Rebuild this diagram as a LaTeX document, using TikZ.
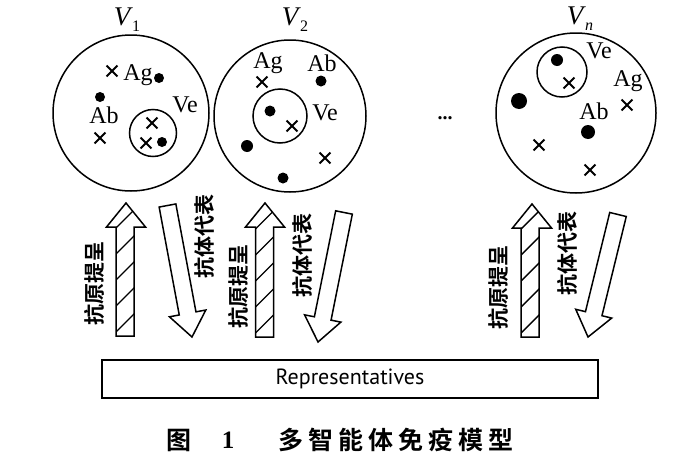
\documentclass[tikz,border=0pt]{standalone}
\usepackage{fontspec}
\setmainfont{Liberation Serif}
\newfontfamily\cjk{Noto Sans CJK SC}
\newfontfamily\cjkb{Noto Sans CJK SC Bold}
\newfontfamily\repfont{PT Sans}
\usetikzlibrary{calc,shapes.misc}
\newcommand{\fs}[1]{\fontsize{#1}{#1}\selectfont}
\newcommand{\hatcharrow}[4]{% #1 shaft x, #2 bottom y, #3 tip x, #4 tip y
  \begin{scope}
    \clip ({#1-9},#2) -- ({#1-9},{#4+24}) -- ({#3-19.5},{#4+24}) -- (#3,#4) -- ({#3+19.5},{#4+24}) -- ({#1+9},{#4+24}) -- ({#1+9},#2) -- cycle;
    \foreach \k in {0,...,6} \draw[hatchline] ({#1-10},{#2-3-\k*26}) -- ({#1+10},{#2-3-\k*26-20});
  \end{scope}
  \draw[bigarrow] ({#1-9},#2) -- ({#1-9},{#4+24}) -- ({#3-19.5},{#4+24}) -- (#3,#4) -- ({#3+19.5},{#4+24}) -- ({#1+9},{#4+24}) -- ({#1+9},#2) -- cycle;
}
\newcommand{\tiltarrow}[2]{% #1 start, #2 tip
  \coordinate (ab) at ($(#2)!24pt!(#1)$);
  \draw[bigarrow] ($(#1)!8.5pt!90:(#2)$) -- ($(ab)!8.5pt!90:(#2)$) -- ($(ab)!18.5pt!90:(#2)$) -- (#2)
     -- ($(ab)!18.5pt!-90:(#2)$) -- ($(ab)!8.5pt!-90:(#2)$) -- ($(#1)!8.5pt!-90:(#2)$) -- cycle;
}
\begin{document}
\begin{tikzpicture}[x=1pt,y=-1pt,
  cell/.style={draw,circle,line width=1.5pt,inner sep=0pt},
  xm/.style={cross out,draw,line width=1.8pt,minimum size=9pt,inner sep=0pt},
  dotm/.style={circle,fill,inner sep=0pt,minimum size=#1},
  dotm/.default=10pt,
  lab/.style={font=\fs{24}},
  vlab/.style={font=\fs{27}},
  bigarrow/.style={draw,line width=1.5pt,line join=miter},
  hatchline/.style={line width=1.4pt},
  vtext/.style={font=\cjkb\fs{21},rotate=90}]
\useasboundingbox (0,0) rectangle (688,474);
\fill[white] (0,0) rectangle (688,474);

% ---- V1 ----
\node[cell,minimum size=156pt] (c1) at (131,113) {};
\node[vlab] (v1) at (127,20) {\textit{V}\kern-1pt\raisebox{-6pt}{\fs{16}1}};
\node[xm] (a1) at (112,71) {};
\node[lab] (ag1) at (138,75) {Ag};
\node[dotm] (d1) at (159,78) {};
\node[dotm] (d2) at (100,97) {};
\node[lab] (ab1) at (104,115) {Ab};
\node[xm] (a2) at (100,138) {};
\node[cell,minimum size=47pt] (e1) at (153,133) {};
\node[lab] (ve1) at (185,105) {Ve};
\node[xm] (a3) at (152,123) {};
\node[xm] (a4) at (146,143) {};
\node[dotm] (d3) at (162,142) {};

% ---- V2 ----
\node[cell,minimum size=152pt] (c2) at (290,116) {};
\node[vlab] (v2) at (295,20) {\textit{V}\kern-1pt\raisebox{-6pt}{\fs{16}2}};
\node[lab] (ag2) at (268,63) {Ag};
\node[xm] (b1) at (262,82) {};
\node[lab] (ab2) at (322,63) {Ab};
\node[dotm=11pt] (f1) at (321,81) {};
\node[cell,minimum size=54pt] (e2) at (280,116) {};
\node[dotm=11pt] (f2) at (270,111) {};
\node[xm] (b2) at (292,126) {};
\node[lab] (ve2) at (325,113) {Ve};
\node[dotm=12pt] (f3) at (247,146) {};
\node[xm] (b3) at (325,158) {};
\node[dotm=11pt] (f4) at (283,178) {};

% ---- dots ----
\node[font=\bfseries\fs{20}] (dots) at (445,118) {...};

% ---- Vn ----
\node[cell,minimum size=160pt] (c3) at (576,113) {};
\node[vlab] (v3) at (580,19) {\textit{V}\kern-1pt\raisebox{-6pt}{\fs{16}\textit{n}}};
\node[cell,minimum size=50pt] (e3) at (562,72) {};
\node[dotm=12pt] (g1) at (557,60) {};
\node[xm] (h1) at (569,83) {};
\node[lab] (ve3) at (599,51) {Ve};
\node[lab] (ag3) at (628,81) {Ag};
\node[xm] (h2) at (627,105) {};
\node[dotm=16pt] (g2) at (519,101) {};
\node[lab] (ab3) at (594,111) {Ab};
\node[dotm=14pt] (g3) at (588,132) {};
\node[xm] (h3) at (539,145) {};
\node[xm] (h4) at (590,170) {};

% ---- arrows ----
\hatcharrow{125}{336}{126}{203}
\node[vtext] (t1) at (94,283) {抗原提呈};
\coordinate (s1) at (167.5,205.5);
\coordinate (p1) at (192,337);
\tiltarrow{s1}{p1}
\node[vtext] (u1) at (204,236) {抗体代表};

\hatcharrow{264.5}{337}{265}{203}
\node[vtext] (t2) at (238,286) {抗原提呈};
\coordinate (s2) at (344,212.5);
\coordinate (p2) at (318,342);
\tiltarrow{s2}{p2}
\node[vtext] (u2) at (302,255) {抗体代表};

\hatcharrow{530}{337}{532}{204}
\node[vtext] (t3) at (498,287) {抗原提呈};
\coordinate (s3) at (618,214.5);
\coordinate (p3) at (588,337);
\tiltarrow{s3}{p3}
\node[vtext] (u3) at (567,253) {抗体代表};

% ---- Representatives ----
\node[draw,line width=1.5pt,minimum width=496pt,minimum height=38pt,inner sep=0pt,font=\repfont\fs{22}] (rep) at (350,379) {Representatives};

% ---- caption ----
\node[font=\cjkb\fs{25}] (cap1) at (179,440) {图};
\node[font=\bfseries\fs{25}] (cap2) at (228,440) {1};
\node[font=\cjkb\fs{25},anchor=west] (cap3) at (275,440) {\addfontfeature{LetterSpace=20}多智能体免疫模型};
\end{tikzpicture}
\end{document}
